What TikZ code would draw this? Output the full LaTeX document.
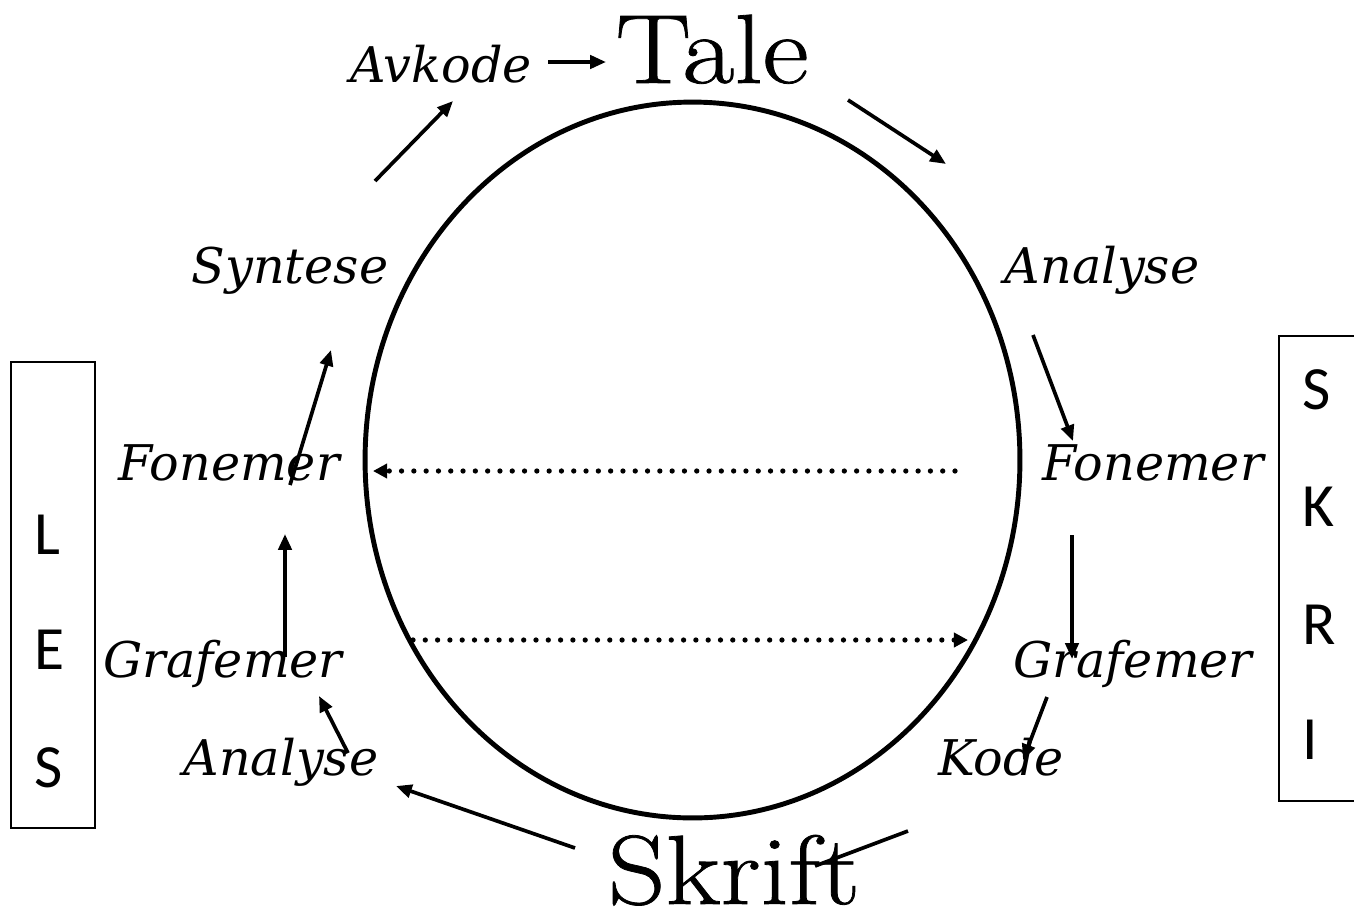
\documentclass[tikz,border=0pt]{standalone}
\usepackage{fontspec}
\newfontfamily\lblfont{DejaVu Serif}
\newfontfamily\boxfont{Carlito}
\newfontfamily\bigfont[FakeStretch=1.15,FakeBold=0.8]{Latin Modern Roman}
\usepackage{tikz}
\usetikzlibrary{arrows.meta}
\tikzset{
  lbl/.style={font=\lblfont\itshape\fontsize{28}{34}\selectfont, inner sep=0pt, anchor=base},
  bigword/.style={font=\bigfont\fontsize{56}{66}\selectfont, inner sep=0pt, anchor=base},
  letter/.style={font=\boxfont\fontsize{35}{42}\selectfont, inner sep=0pt, anchor=west},
  arr/.style={line width=2.1pt, -{Triangle[length=9pt,width=7.5pt]}},
  dotarr/.style={line width=3pt, line cap=round, dash pattern=on 0pt off 7pt,
    -{Triangle[length=8pt,width=8pt]}}
}

\begin{document}
\begin{tikzpicture}[x=0.02cm, y=-0.02cm]
  \useasboundingbox (0,0) rectangle (1354,920);

  \draw[line width=2.8pt] (692.5,460) ellipse [x radius=6.55cm, y radius=7.16cm];

  \node[bigword] (tale) at (712,83) {Tale};
  \node[bigword] (skrift) at (734,904) {Skrift};

  \node[lbl] (avkode) at (441,82) {Avkode};
  \node[lbl] (syntese) at (290,283) {Syntese};
  \node[lbl] (fonL) at (229,480) {Fonemer};
  \node[lbl] (grafL) at (223,677) {Grafemer};
  \node[lbl] (anaL) at (281,775) {Analyse};
  \node[lbl] (anaR) at (1102,283) {Analyse};
  \node[lbl] (fonR) at (1153,480) {Fonemer};
  \node[lbl] (grafR) at (1133,677) {Grafemer};
  \node[lbl] (kode) at (1001,775) {Kode};

  \draw[line width=1.1pt] (11,362) rectangle (95,828);
  \node[letter] (l) at (34,535) {L};
  \node[letter] (e) at (34,650) {E};
  \node[letter] (s) at (34,768) {S};

  \draw[line width=1.1pt] (1279,336) rectangle (1370,801);
  \node[letter] (sk) at (1302,390) {S};
  \node[letter] (k) at (1302,507) {K};
  \node[letter] (r) at (1302,625) {R};
  \node[letter] (i) at (1302,740) {I};

  \coordinate (a1) at (548,62);   \coordinate (a2) at (606,62);
  \coordinate (b1) at (375,181);  \coordinate (b2) at (453,101);
  \coordinate (c1) at (848,100);  \coordinate (c2) at (946,164);
  \coordinate (d1) at (1033,335); \coordinate (d2) at (1073,441);
  \coordinate (e1) at (1072,535); \coordinate (e2) at (1072,659);
  \coordinate (f1) at (1047,697); \coordinate (f2) at (1023,760);
  \coordinate (g1) at (908,831);  \coordinate (g2) at (815,866);
  \coordinate (h1) at (575,848);  \coordinate (h2) at (396,786);
  \coordinate (j1) at (348,753);  \coordinate (j2) at (319,696);
  \coordinate (m1) at (285,657);  \coordinate (m2) at (285,534);
  \coordinate (n1) at (290,485);  \coordinate (n2) at (331,350);
  \coordinate (p1) at (955,471);  \coordinate (p2) at (373,471);
  \coordinate (q1) at (413,640);  \coordinate (q2) at (968,640);

  \draw[arr] (a1) -- (a2);
  \draw[arr] (b1) -- (b2);
  \draw[arr] (c1) -- (c2);
  \draw[arr] (d1) -- (d2);
  \draw[arr] (e1) -- (e2);
  \draw[arr] (f1) -- (f2);
  \draw[line width=2.1pt] (g1) -- (g2);
  \draw[arr] (h1) -- (h2);
  \draw[arr] (j1) -- (j2);
  \draw[arr] (m1) -- (m2);
  \draw[arr] (n1) -- (n2);
  \draw[dotarr] (p1) -- (p2);
  \draw[dotarr] (q1) -- (q2);
\end{tikzpicture}
\end{document}
